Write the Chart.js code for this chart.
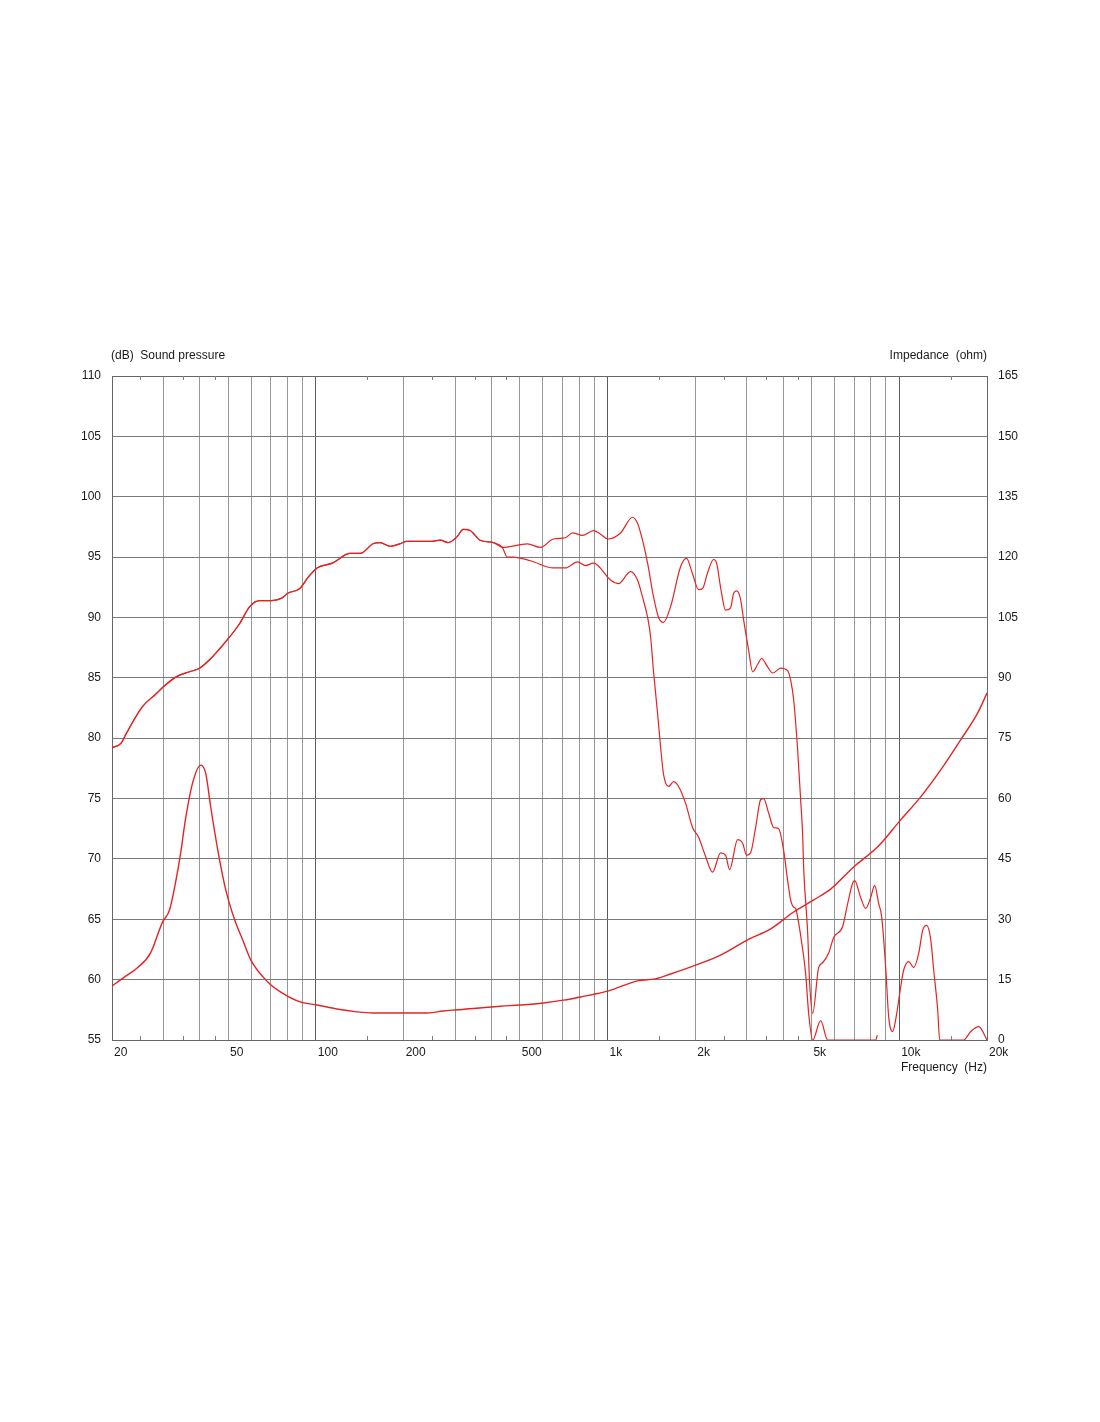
<!DOCTYPE html>
<html><head><meta charset="utf-8">
<script src="https://cdn.jsdelivr.net/npm/chart.js@4/dist/chart.umd.min.js"></script>
<style>html,body{margin:0;padding:0;background:#fff;}canvas{display:block;}</style>
</head><body>
<canvas id="c" width="1100" height="1422"></canvas>
<script>
// ---- data ----
const freqOnAxis = [20,21.5,22.4,25.4,28.4,29.8,33.3,36.9,39.9,43.2,49.5,54.8,59.3,64.2,70.6,76.4,80.1,88.1,93.9,101,114,131,142,157,166,180,194,205,246,267,284,305,320,338,366,406,439,531,589,652,717,758,821,895,946,1003,1108,1218,1267,1318,1372,1438,1496,1556,1645,1780,1866,1957,2052,2118,2203,2310,2366,2441,2540,2642,2706,2770,2859,2928,3046,3144,3270,3375,3539,3682,3922,4145,4244,4346,4486,4593,4665,4703,4854,4931,5050,5295,5465,5730,5961,6400,6658,6926,7036,7377,7674,7984,8240,8505,8709,8989,9204,9500,9728,10120,10360,10780,11210,11670,12040,12430,12830,13130,13550,13770,16640,17590,18740,20000];
const splOnAxis  = [79.2,79.6,80.4,82.6,83.7,84.2,85.1,85.5,85.8,86.5,88.1,89.5,90.9,91.4,91.4,91.6,92.0,92.4,93.3,94.1,94.5,95.3,95.3,96.1,96.2,95.9,96.1,96.3,96.3,96.4,96.2,96.7,97.3,97.2,96.4,96.2,95.8,96.1,95.8,96.5,96.6,97.0,96.8,97.2,96.9,96.5,97.0,98.3,97.8,96.4,94.5,91.7,90.0,89.6,90.9,94.2,94.9,93.6,92.3,92.4,93.7,94.8,94.5,92.5,90.6,90.8,92.0,92.2,91.5,89.8,87.3,85.5,86.1,86.6,85.9,85.4,85.8,85.6,84.8,83.2,79.0,74.9,72.1,69.3,63.9,59.7,57.2,61.0,61.4,62.2,63.5,64.4,66.3,68.0,68.2,66.8,65.9,66.8,67.8,66.3,65.2,61.0,56.9,55.7,56.7,59.4,60.8,61.5,61.0,62.2,64.1,64.5,63.3,60.8,57.5,55.0,55.0,55.7,56.1,55.0];

const freqOffAxis = [20,21.5,22.4,25.4,28.4,29.8,33.3,36.9,39.9,43.2,49.5,54.8,59.3,64.2,70.6,76.4,80.1,88.1,93.9,101,114,131,142,157,166,180,194,205,246,267,284,305,320,338,366,406,436,453,475,544,652,717,789,840,895,1024,1091,1199,1267,1318,1372,1405,1438,1484,1520,1556,1619,1684,1752,1852,1957,2052,2169,2292,2441,2540,2621,2792,2905,2998,3094,3219,3349,3429,3567,3711,3861,4016,4145,4244,4346,4415,4521,4666,4778,4893,5050,5379,5685,8306,8410];
const splOffAxis  = [79.2,79.6,80.4,82.6,83.7,84.2,85.1,85.5,85.8,86.5,88.1,89.5,90.9,91.4,91.4,91.6,92.0,92.4,93.3,94.1,94.5,95.3,95.3,96.1,96.2,95.9,96.1,96.3,96.3,96.4,96.2,96.7,97.3,97.2,96.4,96.2,95.8,95.0,95.0,94.7,94.1,94.1,94.6,94.3,94.5,93.1,92.8,93.8,93.1,91.7,90.0,88.4,85.5,82.1,79.3,77.0,76.0,76.4,76.0,74.6,72.6,71.8,70.2,68.9,70.5,70.3,69.1,71.6,71.3,70.3,70.5,72.6,74.9,75.0,73.8,72.6,72.5,70.7,68.2,66.6,66.0,65.9,64.7,62.5,60.5,57.2,55.0,56.6,55.0,55.0,55.4];

const freqImpedance = [20,22.1,24.4,27.1,29.8,31.5,33.0,34.4,35.7,37.8,40.3,41.9,43.6,46.1,49.1,52.7,56.1,59.8,68.4,75.8,88.8,101,118,138,157,241,273,305,429,502,603,706,808,1008,1267,1461,1645,2004,2441,3022,3624,4346,5090,5820,6981,8438,10120,11850,13880,16250,18590,20000];
const impedanceOhm  = [13.4,15.7,17.9,21.6,29.3,32.3,39.0,46.5,54.7,63.9,68.3,66.3,57.9,47.2,37.3,29.8,24.9,19.9,14.4,11.9,9.4,8.7,7.7,7.0,6.7,6.7,7.2,7.5,8.4,8.7,9.2,9.9,10.7,12.2,14.7,15.2,16.4,18.6,21.1,24.9,27.6,31.8,34.8,37.5,43.0,48.0,54.7,60.4,67.1,74.6,81.3,86.2];

const xGridValues  = [20,30,40,50,60,70,80,90,100,200,300,400,500,600,700,800,900,1000,2000,3000,4000,5000,6000,7000,8000,9000,10000,20000];
const xDecadeValues = [100,1000,10000];
const xLabelValues = [20,50,100,200,500,1000,2000,5000,10000,20000];
const xLabelTexts  = ['20','50','100','200','500','1k','2k','5k','10k','20k'];
const xMinorTicks  = [25,35,45,150,250,350,450,1500,2500,3500,4500,15000];

const leftTitle  = '(dB)  Sound pressure';
const rightTitle = 'Impedance  (ohm)';
const xTitle     = 'Frequency  (Hz)';

// ---- drawing ----
const FONT = '"Liberation Sans", Arial, sans-serif';
const RED = 'rgb(228,36,36)';
const pts = (xs, ys) => xs.map((x, i) => ({x: x, y: ys[i]}));

const framePlugin = {
  id: 'frame',
  beforeDatasetsDraw(chart) {
    const {ctx, chartArea: a, scales} = chart;
    ctx.save();
    ctx.strokeStyle = '#666666';
    ctx.lineWidth = 1;
    ctx.strokeRect(Math.round(a.left) + 0.5, Math.round(a.top) + 0.5, Math.round(a.right - a.left), Math.round(a.bottom - a.top));
    ctx.strokeStyle = '#808080';
    ctx.beginPath();
    xMinorTicks.forEach(v => {
      const px = Math.round(scales.x.getPixelForValue(v)) + 0.5;
      ctx.moveTo(px, a.bottom); ctx.lineTo(px, a.bottom - 4);
      ctx.moveTo(px, a.top); ctx.lineTo(px, a.top + 4);
    });
    ctx.stroke();
    ctx.restore();
  }
};
const textPlugin = {
  id: 'titles',
  afterDraw(chart) {
    const {ctx, chartArea: a} = chart;
    ctx.save();
    ctx.font = '12px ' + FONT;
    ctx.fillStyle = '#1a1a1a';
    ctx.textBaseline = 'middle';
    ctx.textAlign = 'left';
    ctx.fillText(leftTitle, a.left - 1, a.top - 20);
    ctx.textAlign = 'right';
    ctx.fillText(rightTitle, a.right, a.top - 20);
    ctx.fillText(xTitle, a.right, a.bottom + 28);
    ctx.restore();
  }
};

new Chart(document.getElementById('c'), {
  type: 'line',
  data: {
    datasets: [
      {label: 'SPL on axis', data: pts(freqOnAxis, splOnAxis), yAxisID: 'y', borderColor: RED, borderWidth: 1.2, pointRadius: 0, cubicInterpolationMode: 'monotone', fill: false},
      {label: 'SPL off axis', data: pts(freqOffAxis, splOffAxis), yAxisID: 'y', borderColor: RED, borderWidth: 1.2, pointRadius: 0, cubicInterpolationMode: 'monotone', fill: false},
      {label: 'Impedance', data: pts(freqImpedance, impedanceOhm), yAxisID: 'yR', borderColor: RED, borderWidth: 1.4, pointRadius: 0, cubicInterpolationMode: 'monotone', fill: false}
    ]
  },
  options: {
    responsive: false,
    animation: false,
    devicePixelRatio: 1,
    layout: {padding: {top: 376, bottom: 342, left: 0, right: 0}},
    plugins: {legend: {display: false}, tooltip: {enabled: false}, title: {display: false}},
    scales: {
      x: {
        type: 'logarithmic', position: 'bottom', min: 20, max: 20000,
        afterBuildTicks: s => { s.ticks = xGridValues.map(v => ({value: v})); },
        afterFit: s => { s.height = 40; },
        ticks: {
          autoSkip: false, maxRotation: 0, minRotation: 0, align: 'start', labelOffset: 2, padding: 5,
          color: '#1a1a1a', font: {family: FONT, size: 12},
          callback: v => { const i = xLabelValues.indexOf(v); return i >= 0 ? xLabelTexts[i] : ''; }
        },
        grid: {drawTicks: false, lineWidth: 1, color: c => xDecadeValues.includes(c.tick && c.tick.value) ? '#5a5a5a' : '#979797'},
        border: {display: false}
      },
      y: {
        position: 'left', min: 55, max: 110,
        afterFit: s => { s.width = 112; },
        ticks: {stepSize: 5, padding: 11, color: '#1a1a1a', font: {family: FONT, size: 12}},
        grid: {drawTicks: false, color: '#7a7a7a', lineWidth: 1},
        border: {display: false}
      },
      yR: {
        position: 'right', min: 0, max: 165,
        afterFit: s => { s.width = 113; },
        ticks: {stepSize: 15, padding: 11, color: '#1a1a1a', font: {family: FONT, size: 12}},
        grid: {drawOnChartArea: false, drawTicks: false},
        border: {display: false}
      }
    }
  },
  plugins: [framePlugin, textPlugin]
});
</script>
</body></html>
